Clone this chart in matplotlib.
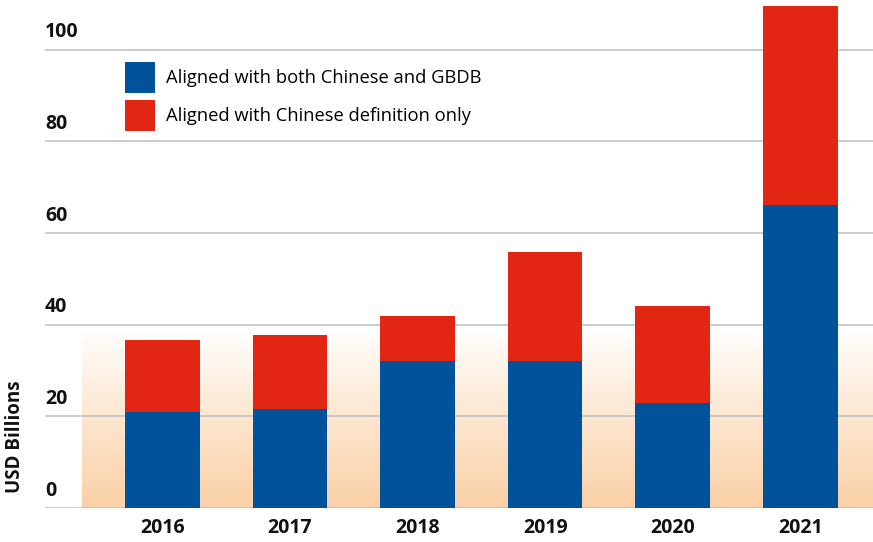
import numpy as np
import matplotlib
matplotlib.use("Agg")
import matplotlib.pyplot as plt
from matplotlib.colors import LinearSegmentedColormap
from matplotlib.transforms import blended_transform_factory

years = ["2016", "2017", "2018", "2019", "2020", "2021"]
both_gbdb = [20.9, 21.7, 32.1, 32.1, 23.0, 66.0]
chinese_only = [15.7, 16.0, 9.8, 23.8, 21.0, 43.4]
labels = ["Aligned with both Chinese and GBDB", "Aligned with Chinese definition only"]
yticks = [0, 20, 40, 60, 80, 100]

blue = "#00529A"
red = "#E32614"
font = "Open Sans"

fig = plt.figure(figsize=(8.73, 5.42), dpi=100)
ax = fig.add_axes([45 / 873, 1 - 508 / 542, 828 / 873, 508 / 542])

x = np.arange(len(years))
ax.set_xlim(-0.92, 5.57)
ax.set_ylim(0, 110.8)

# peach gradient behind the lower part of the chart (strong at the bottom)
grad = np.linspace(1, 0, 256).reshape(-1, 1)
cmap = LinearSegmentedColormap.from_list("peach", ["#FFFFFF", "#FAD0A6"])
ax.imshow(grad ** 0.9, cmap=cmap, aspect="auto", extent=[-0.63, 5.57, 0, 38.5],
          origin="lower", zorder=0, interpolation="bilinear")

for v in yticks:
    ax.axhline(v, color="#BDBDC6", lw=1.1, zorder=1)

ax.bar(x, both_gbdb, 0.585, color=blue, label=labels[0], zorder=2)
ax.bar(x, chinese_only, 0.585, bottom=both_gbdb, color=red, label=labels[1], zorder=2)

trans = blended_transform_factory(ax.transAxes, ax.transData)
for v in yticks:
    ax.text(0.0, v + 1.6, str(v), transform=trans, ha="left", va="bottom",
            fontsize=14, fontweight="bold", family=font, color="#111111")

for xi, yr in zip(x, years):
    ax.text(xi, -4.4, yr, ha="center", va="center", fontsize=14,
            fontweight="bold", family=font, color="#111111")

fig.text(15 / 873, 1 - 437 / 542, "USD Billions", rotation=90, ha="center", va="center",
         fontsize=13.5, fontweight="bold", family=font, color="#111111")

ax.legend(loc="upper left", bbox_to_anchor=(125 / 873, 1 - 62 / 542),
          bbox_transform=fig.transFigure, frameon=False, borderpad=0, borderaxespad=0,
          handlelength=1.65, handleheight=2.19, handletextpad=0.6, labelspacing=0.42,
          prop={"family": font, "size": 13.2})

ax.set_xticks([])
ax.set_yticks([])
for s in ax.spines.values():
    s.set_visible(False)
ax.patch.set_alpha(0)

fig.savefig("out.png", dpi=100)
